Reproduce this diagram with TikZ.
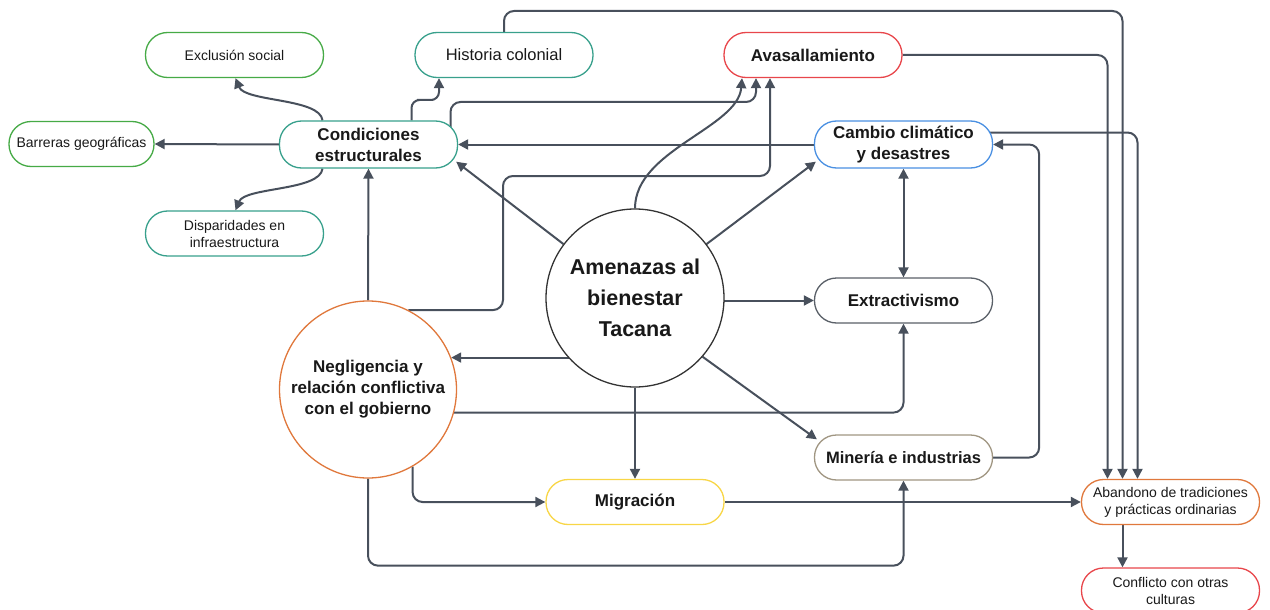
\documentclass[tikz,border=0pt]{standalone}
\usepackage{fontspec}
\setmainfont{Liberation Sans}
\usetikzlibrary{arrows.meta,backgrounds}
\definecolor{edgec}{RGB}{72,80,92}
\definecolor{cgreen}{RGB}{70,170,70}
\definecolor{cteal}{RGB}{56,160,140}
\definecolor{cred}{RGB}{232,70,75}
\definecolor{cblue}{RGB}{74,144,226}
\definecolor{cgray}{RGB}{90,96,104}
\definecolor{ctan}{RGB}{160,150,130}
\definecolor{cyellow}{RGB}{248,214,70}
\definecolor{corange}{RGB}{224,120,60}
\definecolor{cdark}{RGB}{51,51,51}
\begin{document}
\begin{tikzpicture}[x=1pt,y=-1pt,
  box/.style={rectangle, rounded corners=22pt, minimum width=178pt, minimum height=45pt, align=center, line width=1.3pt, fill=white, inner sep=2pt, text=black!90},
  small/.style={font=\fontsize{14}{17}\selectfont},
  bold/.style={font=\fontsize{17}{21}\selectfont\bfseries},
  ring/.style={circle, line width=1.3pt, fill=white, align=center, inner sep=0pt, text=black!90},
  arr/.style={draw=edgec, line width=2pt, -{Triangle[length=10pt,width=10pt]}},
  arrb/.style={draw=edgec, line width=2pt, {Triangle[length=10pt,width=10pt]}-{Triangle[length=10pt,width=10pt]}}]
\useasboundingbox (0,0) rectangle (1270,610);

\node[box,small,draw=cgreen] (excl) at (234.5,55) {Exclusión social};
\node[box,font=\fontsize{16.5}{20}\selectfont,draw=cteal] (hist) at (504,55) {Historia colonial};
\node[box,bold,draw=cred] (avas) at (813,55) {Avasallamiento};
\node[box,small,draw=cgreen,minimum width=145pt] (barr) at (81.5,144) {Barreras geográficas};
\node[box,bold,draw=cteal,minimum height=47pt] (cond) at (368.5,144.5) {Condiciones\\estructurales};
\node[box,bold,draw=cblue,minimum height=47pt] (camb) at (903.5,144.5) {Cambio climático\\y desastres};
\node[box,small,draw=cteal] (disp) at (234.5,233.5) {Disparidades en\\infraestructura};
\node[ring,draw=cdark,minimum size=178pt,font=\fontsize{21.5}{31}\selectfont\bfseries] (amen) at (635,298) {Amenazas al\\bienestar\\Tacana};
\node[box,bold,draw=cgray] (extr) at (903.5,300.5) {Extractivismo};
\node[ring,draw=corange,minimum size=177pt,font=\fontsize{17}{21}\selectfont\bfseries] (negl) at (368,389.5) {Negligencia y\\relación conflictiva\\con el gobierno};
\node[box,draw=ctan,font=\fontsize{16.5}{20}\selectfont\bfseries] (mine) at (903.5,457.5) {Minería e industrias};
\node[box,bold,draw=cyellow] (migr) at (635,502) {Migración};
\node[box,small,draw=corange] (aban) at (1170.5,502) {Abandono de tradiciones\\y prácticas ordinarias};
\node[box,small,draw=cred] (conf) at (1170.5,590.5) {Conflicto con otras\\culturas};

\begin{pgfonlayer}{background}
% Condiciones estructurales
\draw[arr] ([xshift=-46pt]cond.north) .. controls (320,98) and (245,102) .. ([xshift=1pt]excl.south);
\draw[arr] (cond.west) -- (barr.east);
\draw[arr] ([xshift=-46pt]cond.south) .. controls (320,191) and (245,187) .. ([xshift=1pt]disp.north);
\draw[arr, rounded corners=8pt] ([xshift=43pt]cond.north) |- (425,100) -| ([xshift=-65pt]hist.south);
\draw[arr, rounded corners=10pt] ([xshift=82pt]cond.center) |- (600,102) -| ([xshift=-57pt]avas.south);
% to Abandono
\draw[arr, rounded corners=10pt] (hist.north) |- (800,11) -| ([xshift=-48pt]aban.north);
\draw[arr, rounded corners=10pt] (avas.east) -| ([xshift=-63pt]aban.north);
\draw[arr, rounded corners=10pt] ([yshift=12pt]camb.center) -| ([xshift=-33pt]aban.north);
% Cambio climatico
\draw[arr] (camb.west) -- (cond.east);
\draw[arrb] (camb.south) -- (extr.north);
% Amenazas
\draw[arr] (amen.143) -- ([xshift=-2pt,yshift=7pt]cond.south east);
\draw[arr] (amen.37) -- ([xshift=2pt,yshift=7pt]camb.south west);
\draw[arr] (amen.-41) -- ([xshift=3pt,yshift=-5pt]mine.north west);
\draw[arr] (amen.center |- extr.west) -- (extr.west);
\draw[arr] (amen.south) -- (migr.north);
\draw[arr] (amen.center |- negl.21.5) -- (negl.21.5);
\draw[arr] (amen.north) .. controls (635,150) and (738,128) .. ([xshift=-71pt]avas.south);
% Negligencia
\draw[arr] (negl.north) -- (cond.south);
\draw[arr, rounded corners=10pt] (negl.-15.4) -| (extr.south);
\draw[arr, rounded corners=10pt] (negl.-60) |- (migr.west);
\draw[arr, rounded corners=10pt] (negl.south) -- ++(0,87) -| (mine.south);
\draw[arr, rounded corners=10pt] (negl.63) -| (503,176) -| ([xshift=-43pt]avas.south);
% Mineria
\draw[arr, rounded corners=10pt] (mine.east) -- ++(46,0) |- (camb.east);
% Migracion / Abandono
\draw[arr] (migr.east) -- (aban.west);
\draw[arr] ([xshift=-48pt]aban.south) -- ([xshift=-48pt]conf.north);
\end{pgfonlayer}
\end{tikzpicture}
\end{document}
